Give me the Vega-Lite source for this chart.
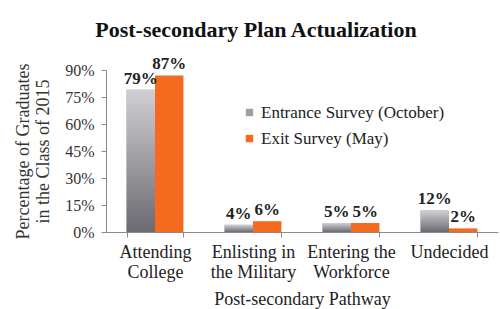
{
  "$schema": "https://vega.github.io/schema/vega-lite/v6.json",
  "width": 392,
  "height": 162,
  "autosize": {"type": "none"},
  "padding": {"left": 106, "top": 70, "right": 2, "bottom": 77},
  "background": "white",
  "title": {
    "text": "Post-secondary Plan Actualization",
    "font": "Liberation Serif",
    "fontSize": 22,
    "fontWeight": "bold",
    "color": "#111111",
    "anchor": "middle",
    "frame": "group",
    "dx": -46,
    "offset": 13
  },
  "data": {
    "values": [
      {"pathway": "Attending College", "survey": "Entrance Survey (October)", "pct": 0.79},
      {"pathway": "Attending College", "survey": "Exit Survey (May)", "pct": 0.87},
      {"pathway": "Enlisting in the Military", "survey": "Entrance Survey (October)", "pct": 0.04},
      {"pathway": "Enlisting in the Military", "survey": "Exit Survey (May)", "pct": 0.06},
      {"pathway": "Entering the Workforce", "survey": "Entrance Survey (October)", "pct": 0.05},
      {"pathway": "Entering the Workforce", "survey": "Exit Survey (May)", "pct": 0.05},
      {"pathway": "Undecided", "survey": "Entrance Survey (October)", "pct": 0.12},
      {"pathway": "Undecided", "survey": "Exit Survey (May)", "pct": 0.02}
    ]
  },
  "encoding": {
    "x": {
      "field": "pathway",
      "type": "nominal",
      "sort": null,
      "scale": {"paddingInner": 0.42, "paddingOuter": 0.21},
      "axis": {
        "labelAngle": 0,
        "labelExpr": "datum.value == 'Attending College' ? ['Attending', 'College'] : datum.value == 'Enlisting in the Military' ? ['Enlisting in', 'the Military'] : datum.value == 'Entering the Workforce' ? ['Entering the', 'Workforce'] : datum.value",
        "labelFont": "Liberation Serif",
        "labelFontSize": 18,
        "labelLineHeight": 20,
        "labelColor": "#222222",
        "labelPadding": 6,
        "labelLimit": 0,
        "tickBand": "extent",
        "tickSize": 5,
        "tickColor": "#8a8a8a",
        "domainColor": "#8a8a8a",
        "title": "Post-secondary Pathway",
        "titleFont": "Liberation Serif",
        "titleFontSize": 18,
        "titleFontWeight": "normal",
        "titleColor": "#222222",
        "titlePadding": 9
      }
    },
    "xOffset": {"field": "survey", "type": "nominal", "scale": {"paddingInner": 0, "paddingOuter": 0}},
    "y": {
      "field": "pct",
      "type": "quantitative",
      "scale": {"domain": [0, 0.9], "nice": false},
      "axis": {
        "values": [0, 0.15, 0.3, 0.45, 0.6, 0.75, 0.9],
        "format": ".0%",
        "grid": false,
        "tickSize": 5,
        "tickColor": "#8a8a8a",
        "domainColor": "#8a8a8a",
        "labelFont": "Liberation Serif",
        "labelFontSize": 16,
        "labelColor": "#333333",
        "labelPadding": 7,
        "title": ["Percentage of Graduates", "in the Class of 2015"],
        "titleFont": "Liberation Serif",
        "titleFontSize": 18,
        "titleFontWeight": "normal",
        "titleColor": "#333333",
        "titleLineHeight": 20,
        "titlePadding": 12
      }
    }
  },
  "layer": [
    {
      "mark": {"type": "bar"},
      "encoding": {
        "color": {
          "field": "survey",
          "type": "nominal",
          "scale": {"range": ["#9e9ea3", "#f46a1f"]},
          "legend": {
            "orient": "none",
            "legendX": 135,
            "legendY": 34,
            "title": null,
            "symbolType": "square",
            "symbolSize": 55,
            "symbolStrokeWidth": 0,
            "labelFont": "Liberation Serif",
            "labelFontSize": 17,
            "labelColor": "#222222",
            "labelLimit": 0,
            "rowPadding": 8,
            "labelOffset": 3
          }
        }
      }
    },
    {
      "transform": [{"filter": "datum.survey == 'Entrance Survey (October)'"}],
      "mark": {
        "type": "bar",
        "color": {
          "gradient": "linear",
          "x1": 0, "y1": 0, "x2": 0, "y2": 1,
          "stops": [
            {"offset": 0, "color": "#d0d0d4"},
            {"offset": 1, "color": "#6a6a70"}
          ]
        }
      },
      "encoding": {}
    },
    {
      "mark": {
        "type": "text",
        "baseline": "bottom",
        "dy": -2,
        "font": "Liberation Serif",
        "fontSize": 17,
        "fontWeight": "bold",
        "color": "#222222"
      },
      "encoding": {
        "text": {"field": "pct", "type": "quantitative", "format": ".0%"},
        "detail": {"field": "survey"}
      }
    }
  ],
  "config": {"view": {"stroke": null}, "font": "Liberation Serif"}
}
